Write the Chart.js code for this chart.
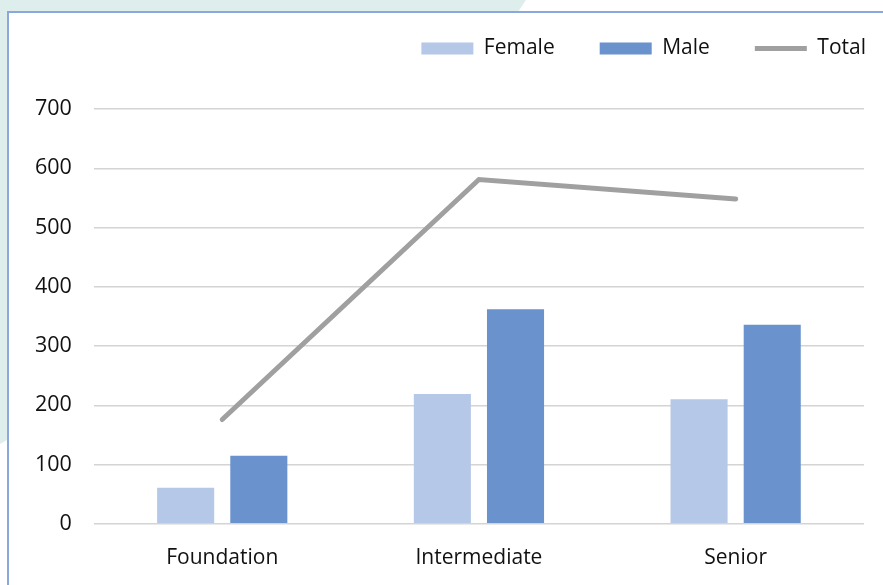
<!DOCTYPE html>
<html>
<head>
    <style>
        html, body {
            margin: 0;
            padding: 0;
            width: 883px;
            height: 585px;
            overflow: hidden;
            background: #ffffff;
        }
        .backdrop {
            position: absolute;
            left: 0;
            top: 0;
            width: 883px;
            height: 585px;
            background: #deeeed;
            clip-path: polygon(0 0, 526px 0, 371px 232px, 0 444px);
        }
        .panel {
            position: absolute;
            left: 7px;
            top: 11px;
            width: 900px;
            height: 600px;
            background: #ffffff;
            border: 2px solid #8aa8de;
            box-sizing: border-box;
        }
        .chart-box {
            position: absolute;
            left: 9px;
            top: 0px;
            width: 874px;
            height: 585px;
        }
    </style>
</head>
<body>
    <div class="backdrop"></div>
    <div class="panel"></div>
    <div class="chart-box">
        <canvas id="genderChart"></canvas>
    </div>

    <script src="https://cdn.jsdelivr.net/npm/chart.js@4/dist/chart.umd.min.js"></script>
    <script>
        // values
        const levels = ['Foundation', 'Intermediate', 'Senior'];
        const female = [61, 219, 210];
        const male = [115, 362, 336];
        const total = [176, 581, 548];
        const yTicks = [0, 100, 200, 300, 400, 500, 600, 700];

        const font = "'Open Sans', sans-serif";
        const legendPad = 45;

        // push the plot down under the legend and let the legend sit flush right
        const legendSpacing = {
            id: 'legendSpacing',
            beforeInit(chart) {
                const fit = chart.legend.fit;
                chart.legend.fit = function () {
                    fit.call(this);
                    this.height += 33;
                };
            },
            afterLayout(chart) {
                const lg = chart.legend;
                lg.left += legendPad + 2;
                lg.right += legendPad + 2;
                lg.top -= 7;
                lg.bottom -= 7;
            }
        };

        const ctx = document.getElementById('genderChart').getContext('2d');
        new Chart(ctx, {
            type: 'bar',
            data: {
                labels: levels,
                datasets: [
                    {
                        type: 'line',
                        label: 'Total',
                        data: total,
                        borderColor: '#a0a0a0',
                        backgroundColor: '#a0a0a0',
                        borderWidth: 5,
                        borderCapStyle: 'round',
                        pointRadius: 0,
                        pointStyle: 'line',
                        fill: false,
                        order: 0
                    },
                    {
                        label: 'Female',
                        data: female,
                        backgroundColor: '#b6c8e7',
                        pointStyle: 'rect',
                        barPercentage: 0.78,
                        categoryPercentage: 0.57,
                        order: 1
                    },
                    {
                        label: 'Male',
                        data: male,
                        backgroundColor: '#6a92cd',
                        pointStyle: 'rect',
                        barPercentage: 0.78,
                        categoryPercentage: 0.57,
                        order: 1
                    }
                ]
            },
            options: {
                responsive: true,
                maintainAspectRatio: false,
                animation: false,
                layout: {
                    padding: { left: 4, right: 19, top: 0, bottom: 0 }
                },
                plugins: {
                    legend: {
                        position: 'top',
                        align: 'end',
                        labels: {
                            usePointStyle: true,
                            pointStyleWidth: 52,
                            boxHeight: 12,
                            padding: legendPad,
                            color: '#111111',
                            font: { family: font, size: 21 },
                            sort: (a, b) => ['Female', 'Male', 'Total'].indexOf(a.text) - ['Female', 'Male', 'Total'].indexOf(b.text)
                        }
                    },
                    tooltip: { enabled: false }
                },
                scales: {
                    x: {
                        grid: { display: false },
                        border: { display: false },
                        ticks: {
                            color: '#111111',
                            padding: 14,
                            font: { family: font, size: 21 }
                        }
                    },
                    y: {
                        min: 0,
                        max: 700,
                        afterBuildTicks: axis => {
                            axis.ticks = yTicks.map(v => ({ value: v }));
                        },
                        grid: {
                            color: '#d4d4d4',
                            lineWidth: 1.5,
                            drawTicks: false
                        },
                        border: { display: false },
                        ticks: {
                            color: '#111111',
                            padding: 22,
                            font: { family: font, size: 21.5 }
                        }
                    }
                }
            },
            plugins: [legendSpacing]
        });
    </script>
</body>
</html>
